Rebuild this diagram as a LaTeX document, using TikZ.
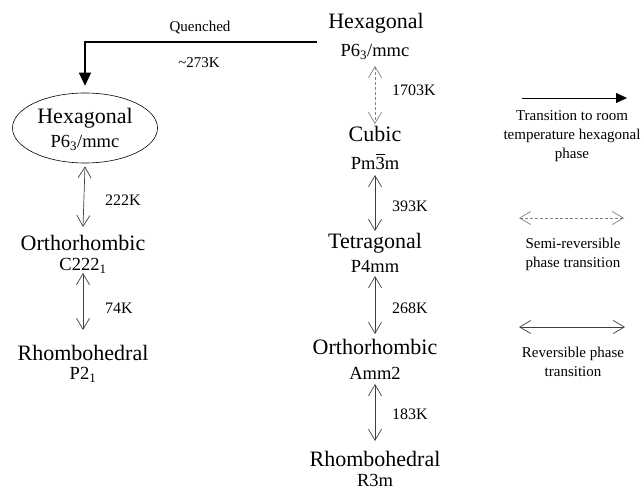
\documentclass[tikz,border=0pt]{standalone}
\usepackage{fontspec}
\setmainfont{Liberation Serif}
\usetikzlibrary{arrows.meta,shapes.geometric}
% digit with a bar above it (rotoinversion axis)
\newcommand{\bardigit}[1]{\makebox[0pt][l]{\rule[0.76em]{0.5em}{0.05em}}#1}
\begin{document}
\begin{tikzpicture}[x=1pt,y=-1pt,
  phase/.style={inner sep=0pt, font=\fontsize{22}{24}\selectfont},
  group/.style={inner sep=0pt, font=\fontsize{18.5}{20}\selectfont},
  temp/.style={inner sep=0pt, anchor=west, font=\fontsize{16}{18}\selectfont},
  qlabel/.style={inner sep=0pt, font=\fontsize{15}{17}\selectfont},
  legendtext/.style={inner sep=0pt, align=center, font=\fontsize{15}{19}\selectfont},
  barb/.tip={Straight Barb[length=11pt,width=13pt]},
  rev/.style={draw=black!75, line width=0.7pt, barb-barb},
  semirev/.style={rev, draw=black!50, dash pattern=on 3pt off 2pt},
  quench/.style={draw=black, line width=1.1pt, -{Triangle[length=13pt,width=12pt]}},
]
\path[use as bounding box] (0,0) rectangle (644,489);

% ---- right column: heating sequence ----
\node[phase] (hexR)   at (376,23)  {Hexagonal};
\node[group] (hexRsg) at (375,52)  {P6\textsubscript{3}/mmc};
\node[phase] (cub)    at (375,134) {Cubic};
\node[group] (cubsg)  at (375,162) {Pm\bardigit{3}m};
\node[phase] (tet)    at (375,243) {Tetragonal};
\node[group] (tetsg)  at (375,266) {P4mm};
\node[phase] (ortR)   at (375,347) {Orthorhombic};
\node[group] (ortRsg) at (375,373) {Amm2};
\node[phase] (rhoR)   at (375,459) {Rhombohedral};
\node[group] (rhoRsg) at (375,480) {R3m};

\draw[semirev] ([yshift=-14pt]hexRsg.center) -- ([yshift=10pt]cub.center);
\draw[rev] ([yshift=-13pt]cubsg.center) -- ([yshift=12pt]tet.center);
\draw[rev] ([yshift=-10pt]tetsg.center) -- ([yshift=13pt]ortR.center);
\draw[rev] ([yshift=-11pt]ortRsg.center) -- ([yshift=18pt]rhoR.center);

\node[temp] (t1703) at (392,90)  {1703K};
\node[temp] (t393)  at (392,206) {393K};
\node[temp] (t268)  at (392,308) {268K};
\node[temp] (t183)  at (392,414) {183K};

% ---- quench to the left column ----
\node[draw, ellipse, line width=0.6pt, minimum width=145pt, minimum height=70pt, inner sep=0pt]
  (hexL) at (85,128) {};
\node[phase] (hexLname) at (85,118) {Hexagonal};
\node[group] (hexLsg)   at (85,143) {P6\textsubscript{3}/mmc};

\coordinate (qstart) at (317,42);
\draw[quench] (qstart) -| ([yshift=7pt]hexL.north);
\node[qlabel] (qtxt) at (200,28) {Quenched};
\node[qlabel] (qtemp) at (199,63) {\char"7E 273K};

% ---- left column: cooling sequence ----
\node[phase] (ortL)   at (83,243) {Orthorhombic};
\node[group] (ortLsg) at (83,266) {C222\textsubscript{1}};
\node[phase] (rhoL)   at (83,353) {Rhombohedral};
\node[group] (rhoLsg) at (83,375) {P2\textsubscript{1}};

\draw[rev] ([yshift=-3pt]hexL.south) -- ([yshift=16pt]ortL.center);
\draw[rev] ([yshift=-7pt]ortLsg.center) -- ([yshift=23pt]rhoL.center);

\node[temp] (t222) at (105,200) {222K};
\node[temp] (t74)  at (105,308) {74K};

% ---- legend ----
\coordinate (la1) at (522,98);
\coordinate (lb1) at (627,98);
\draw[line width=0.8pt, -{Triangle[length=11pt,width=10pt]}] (la1) -- (lb1);
\node[legendtext] (lt1) at (572,136) {Transition to room\\temperature hexagonal\\phase};

\coordinate (la2) at (519,218);
\coordinate (lb2) at (624,218);
\draw[semirev] (la2) -- (lb2);
\node[legendtext] (lt2) at (573,254) {Semi-reversible\\phase transition};

\coordinate (la3) at (519,327);
\coordinate (lb3) at (625,327);
\draw[rev] (la3) -- (lb3);
\node[legendtext] (lt3) at (573,362) {Reversible phase\\transition};
\end{tikzpicture}
\end{document}
